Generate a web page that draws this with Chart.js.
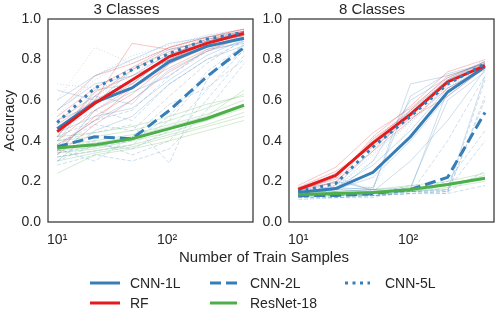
<!DOCTYPE html>
<html>
<head>
<meta charset="utf-8">
<script src="https://cdn.jsdelivr.net/npm/chart.js@4.4.0/dist/chart.umd.min.js"></script>
<style>
  body { margin: 0; background: #fff; width: 499px; height: 321px; position: relative; overflow: hidden;
         font-family: "Liberation Sans", Arial, sans-serif; color: #262626; }
  canvas { position: absolute; top: 0; }
  #xtitle { position: absolute; left: 0; width: 528px; top: 248px; text-align: center; font-size: 15px; line-height: 18px; }
  .lt { position: absolute; font-size: 14px; line-height: 16px; white-space: nowrap; }
  #legsvg { position: absolute; left: 0; top: 0; }
</style>
</head>
<body>
<canvas id="c3" width="255" height="250" style="left:0;width:255px;height:250px"></canvas>
<canvas id="c8" width="246" height="250" style="left:250px;width:246px;height:250px"></canvas>
<div id="xtitle">Number of Train Samples</div>
<svg id="legsvg" width="499" height="321"></svg>

<script>
// number of training samples (x positions)
var samples = [10, 22, 48, 105, 229, 501];
var tickValues = [10, 100];
var tickLabels = ['10\u00b9', '10\u00b2'];

// ---- 3 classes: mean curves
var cnn1_3 = [0.46, 0.59, 0.66, 0.79, 0.865, 0.905];
var cnn2_3 = [0.37, 0.42, 0.41, 0.55, 0.715, 0.86];
var cnn5_3 = [0.49, 0.66, 0.75, 0.83, 0.90, 0.935];
var rf_3 = [0.445, 0.585, 0.70, 0.815, 0.88, 0.93];
var res_3 = [0.365, 0.38, 0.41, 0.46, 0.51, 0.575];

// ---- 3 classes: single runs (faint)
var cnn1_3_runs = [
  [0.37, 0.50, 0.60, 0.75, 0.84, 0.89],
  [0.55, 0.68, 0.72, 0.83, 0.88, 0.92],
  [0.40, 0.62, 0.58, 0.78, 0.87, 0.90],
  [0.65, 0.60, 0.70, 0.80, 0.86, 0.91],
  [0.33, 0.55, 0.64, 0.72, 0.85, 0.88],
  [0.50, 0.58, 0.75, 0.85, 0.89, 0.93],
  [0.44, 0.52, 0.56, 0.70, 0.82, 0.90],
  [0.30, 0.45, 0.52, 0.68, 0.80, 0.87],
  [0.60, 0.72, 0.80, 0.88, 0.91, 0.94],
  [0.42, 0.65, 0.68, 0.82, 0.90, 0.93]
];
var cnn2_3_runs = [
  [0.30, 0.38, 0.36, 0.45, 0.65, 0.85],
  [0.45, 0.55, 0.50, 0.68, 0.80, 0.89],
  [0.35, 0.40, 0.33, 0.40, 0.60, 0.82],
  [0.38, 0.48, 0.45, 0.62, 0.78, 0.90],
  [0.32, 0.35, 0.38, 0.50, 0.72, 0.84],
  [0.40, 0.44, 0.48, 0.29, 0.70, 0.88],
  [0.36, 0.30, 0.42, 0.58, 0.66, 0.80],
  [0.28, 0.33, 0.30, 0.36, 0.55, 0.78],
  [0.42, 0.50, 0.55, 0.72, 0.84, 0.92],
  [0.34, 0.37, 0.40, 0.52, 0.74, 0.87]
];
var cnn5_3_runs = [
  [0.42, 0.60, 0.70, 0.80, 0.88, 0.93],
  [0.60, 0.86, 0.78, 0.86, 0.92, 0.95],
  [0.38, 0.62, 0.74, 0.82, 0.90, 0.94],
  [0.55, 0.70, 0.80, 0.85, 0.91, 0.94],
  [0.48, 0.65, 0.72, 0.83, 0.89, 0.93],
  [0.68, 0.66, 0.76, 0.84, 0.90, 0.92],
  [0.35, 0.55, 0.68, 0.78, 0.87, 0.92],
  [0.52, 0.72, 0.82, 0.87, 0.92, 0.95],
  [0.45, 0.62, 0.70, 0.80, 0.88, 0.92]
];
var rf_3_runs = [
  [0.40, 0.55, 0.66, 0.80, 0.87, 0.93],
  [0.50, 0.62, 0.75, 0.84, 0.90, 0.94],
  [0.35, 0.52, 0.63, 0.78, 0.86, 0.92],
  [0.55, 0.72, 0.78, 0.86, 0.91, 0.95],
  [0.45, 0.58, 0.68, 0.82, 0.89, 0.93],
  [0.42, 0.64, 0.72, 0.80, 0.88, 0.92],
  [0.38, 0.50, 0.66, 0.76, 0.85, 0.91],
  [0.48, 0.60, 0.88, 0.85, 0.89, 0.94],
  [0.33, 0.48, 0.60, 0.74, 0.84, 0.91],
  [0.52, 0.66, 0.76, 0.86, 0.91, 0.95]
];
var res_3_runs = [
  [0.30, 0.34, 0.37, 0.42, 0.47, 0.52],
  [0.40, 0.42, 0.45, 0.50, 0.56, 0.63],
  [0.34, 0.36, 0.40, 0.44, 0.50, 0.56],
  [0.38, 0.40, 0.43, 0.48, 0.53, 0.60],
  [0.24, 0.33, 0.36, 0.40, 0.45, 0.50],
  [0.36, 0.39, 0.42, 0.47, 0.52, 0.65],
  [0.32, 0.35, 0.38, 0.43, 0.48, 0.54],
  [0.42, 0.44, 0.47, 0.52, 0.58, 0.62],
  [0.35, 0.37, 0.41, 0.46, 0.50, 0.58]
];

// ---- 8 classes: mean curves
var cnn1_8 = [0.145, 0.165, 0.245, 0.42, 0.64, 0.765];
var cnn2_8 = [0.13, 0.13, 0.14, 0.16, 0.22, 0.54];
var cnn5_8 = [0.15, 0.19, 0.37, 0.52, 0.68, 0.78];
var rf_8 = [0.16, 0.23, 0.39, 0.53, 0.69, 0.77];
var res_8 = [0.135, 0.14, 0.145, 0.16, 0.185, 0.215];

// ---- 8 classes: single runs (faint)
var cnn1_8_runs = [
  [0.13, 0.15, 0.16, 0.68, 0.72, 0.78],
  [0.14, 0.18, 0.35, 0.55, 0.70, 0.79],
  [0.15, 0.16, 0.15, 0.16, 0.65, 0.77],
  [0.14, 0.17, 0.28, 0.45, 0.66, 0.76],
  [0.16, 0.22, 0.15, 0.30, 0.50, 0.75],
  [0.13, 0.15, 0.30, 0.60, 0.71, 0.79],
  [0.15, 0.20, 0.16, 0.15, 0.16, 0.72],
  [0.14, 0.16, 0.17, 0.62, 0.73, 0.78],
  [0.15, 0.17, 0.16, 0.17, 0.60, 0.74],
  [0.13, 0.16, 0.22, 0.40, 0.62, 0.76]
];
var cnn2_8_runs = [
  [0.12, 0.12, 0.13, 0.14, 0.15, 0.70],
  [0.13, 0.14, 0.15, 0.15, 0.15, 0.25],
  [0.12, 0.13, 0.13, 0.14, 0.40, 0.72],
  [0.14, 0.13, 0.14, 0.18, 0.15, 0.60],
  [0.11, 0.12, 0.12, 0.16, 0.20, 0.45],
  [0.13, 0.14, 0.13, 0.15, 0.14, 0.18],
  [0.12, 0.12, 0.13, 0.14, 0.14, 0.62],
  [0.13, 0.13, 0.14, 0.15, 0.16, 0.40]
];
var cnn5_8_runs = [
  [0.14, 0.17, 0.33, 0.50, 0.67, 0.78],
  [0.16, 0.22, 0.41, 0.55, 0.70, 0.79],
  [0.15, 0.18, 0.36, 0.52, 0.69, 0.77],
  [0.13, 0.16, 0.34, 0.49, 0.66, 0.77],
  [0.17, 0.24, 0.38, 0.54, 0.70, 0.80],
  [0.15, 0.20, 0.17, 0.48, 0.68, 0.78],
  [0.14, 0.18, 0.30, 0.50, 0.67, 0.76]
];
var rf_8_runs = [
  [0.14, 0.20, 0.35, 0.50, 0.66, 0.75],
  [0.18, 0.27, 0.44, 0.56, 0.71, 0.79],
  [0.15, 0.22, 0.40, 0.55, 0.72, 0.78],
  [0.17, 0.25, 0.37, 0.51, 0.62, 0.76],
  [0.16, 0.21, 0.42, 0.57, 0.74, 0.80],
  [0.15, 0.24, 0.38, 0.52, 0.69, 0.77],
  [0.17, 0.19, 0.41, 0.54, 0.70, 0.78]
];
var res_8_runs = [
  [0.12, 0.13, 0.13, 0.15, 0.17, 0.20],
  [0.15, 0.15, 0.16, 0.18, 0.20, 0.24],
  [0.13, 0.14, 0.15, 0.16, 0.19, 0.22],
  [0.14, 0.14, 0.14, 0.15, 0.18, 0.21],
  [0.13, 0.13, 0.14, 0.16, 0.18, 0.23]
];

var BLUE = '55,126,184', RED = '228,26,28', GREEN = '77,175,74';

// model styles; order = drawing order (lower is on top)
var models = [
  { name: 'CNN-1L', rgb: BLUE, dash: [], fdash: [], order: 5 },
  { name: 'RF', rgb: RED, dash: [], fdash: [], order: 4 },
  { name: 'CNN-2L', rgb: BLUE, dash: [11, 5], fdash: [4, 2], order: 3 },
  { name: 'ResNet-18', rgb: GREEN, dash: [], fdash: [], order: 2 },
  { name: 'CNN-5L', rgb: BLUE, dash: [3, 4.5], fdash: [1, 2], order: 1 }
];

function pts(vals) {
  var out = [];
  for (var i = 0; i < samples.length; i++) out.push({ x: samples[i], y: vals[i] });
  return out;
}

function buildSets(means, runs) {
  var sets = [];
  for (var m = 0; m < models.length; m++) {
    for (var r = 0; r < runs[m].length; r++) {
      sets.push({
        data: pts(runs[m][r]),
        borderColor: 'rgba(' + models[m].rgb + ',0.25)',
        borderWidth: 1,
        borderDash: models[m].fdash,
        pointRadius: 0,
        order: 20
      });
    }
  }
  for (var m = 0; m < models.length; m++) {
    sets.push({
      label: models[m].name,
      data: pts(means[m]),
      borderColor: 'rgb(' + models[m].rgb + ')',
      borderWidth: 3,
      borderDash: models[m].dash,
      pointRadius: 0,
      order: models[m].order
    });
  }
  return sets;
}

var frame = {
  id: 'frame',
  afterDraw: function(chart) {
    var a = chart.chartArea, ctx = chart.ctx;
    ctx.save();
    ctx.strokeStyle = '#3d3d3d';
    ctx.lineWidth = 1.3;
    ctx.strokeRect(a.left, a.top, a.right - a.left, a.bottom - a.top);
    ctx.restore();
  }
};

function makeChart(id, title, means, runs, yWidth, showYTitle) {
  return new Chart(document.getElementById(id), {
    type: 'line',
    data: { datasets: buildSets(means, runs) },
    options: {
      responsive: false,
      animation: false,
      layout: { padding: { top: 0, right: 2, bottom: 0, left: 0 } },
      plugins: {
        legend: { display: false },
        tooltip: { enabled: false },
        title: {
          display: true, text: title, color: '#262626',
          font: { family: 'Liberation Sans', size: 15, weight: 'normal' },
          padding: { top: 1, bottom: 0 }
        }
      },
      scales: {
        x: {
          type: 'logarithmic', min: 8.25, max: 605,
          grid: { display: false, drawTicks: false },
          border: { display: false },
          afterBuildTicks: function(s) { s.ticks = tickValues.map(function(v) { return { value: v }; }); },
          afterFit: function(s) { s.height = 28; },
          ticks: {
            autoSkip: false, maxRotation: 0, padding: 10, color: '#262626',
            font: { family: 'Liberation Sans', size: 14 },
            callback: function(v) { return tickLabels[tickValues.indexOf(v)]; }
          }
        },
        y: {
          min: 0, max: 1,
          grid: { display: false, drawTicks: false },
          border: { display: false },
          afterFit: function(s) { s.width = yWidth; },
          title: {
            display: showYTitle, text: 'Accuracy', color: '#262626',
            font: { family: 'Liberation Sans', size: 15 },
            padding: { top: 1, bottom: 0 }
          },
          ticks: {
            stepSize: 0.2, padding: 7, color: '#262626',
            font: { family: 'Liberation Sans', size: 14 },
            callback: function(v) { return v.toFixed(1); }
          }
        }
      }
    },
    plugins: [frame]
  });
}

makeChart('c3', '3 Classes',
  [cnn1_3, rf_3, cnn2_3, res_3, cnn5_3],
  [cnn1_3_runs, rf_3_runs, cnn2_3_runs, res_3_runs, cnn5_3_runs], 48, true);
makeChart('c8', '8 Classes',
  [cnn1_8, rf_8, cnn2_8, res_8, cnn5_8],
  [cnn1_8_runs, rf_8_runs, cnn2_8_runs, res_8_runs, cnn5_8_runs], 39, false);

// legend below the panels, three columns filled column by column
var legPos = [
  { x1: 90, x2: 120, tx: 130, y: 283 },
  { x1: 90, x2: 120, tx: 130, y: 303 },
  { x1: 210, x2: 237, tx: 250, y: 283 },
  { x1: 210, x2: 237, tx: 250, y: 303 },
  { x1: 345, x2: 370, tx: 385, y: 283 }
];
var svg = document.getElementById('legsvg');
for (var i = 0; i < models.length; i++) {
  var p = legPos[i];
  var ln = document.createElementNS('http://www.w3.org/2000/svg', 'line');
  ln.setAttribute('x1', p.x1); ln.setAttribute('x2', p.x2);
  ln.setAttribute('y1', p.y); ln.setAttribute('y2', p.y);
  ln.setAttribute('stroke', 'rgb(' + models[i].rgb + ')');
  ln.setAttribute('stroke-width', 3);
  if (models[i].dash.length) ln.setAttribute('stroke-dasharray', models[i].dash.join(' '));
  svg.appendChild(ln);
  var t = document.createElement('div');
  t.className = 'lt';
  t.style.left = p.tx + 'px';
  t.style.top = (p.y - 8) + 'px';
  t.textContent = models[i].name;
  document.body.appendChild(t);
}
</script>
</body>
</html>
